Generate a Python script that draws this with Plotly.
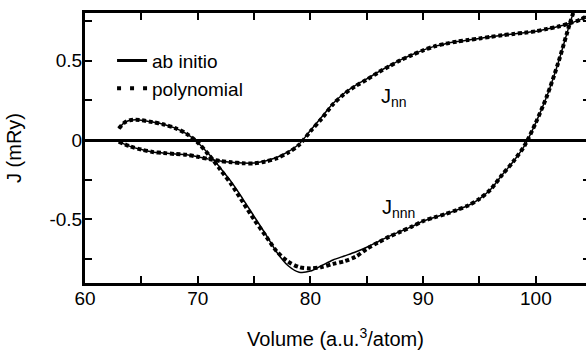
import plotly.graph_objects as go

# ---- data ----
x_nn = [63, 64, 65, 66, 67, 68, 69, 70, 71, 72, 73, 74, 75, 76, 77, 78, 79, 80,
        81, 82, 83, 84, 85, 86, 87, 88, 89, 90, 91, 92, 93, 94, 95, 96, 97, 98,
        99, 100, 101, 102, 103, 104, 104.6]
jnn_abinitio = [-0.01, -0.04, -0.06, -0.075, -0.082, -0.088, -0.093, -0.105, -0.12,
                -0.132, -0.14, -0.145, -0.145, -0.132, -0.11, -0.075, -0.025, 0.06,
                0.145, 0.23, 0.295, 0.345, 0.385, 0.428, 0.468, 0.505, 0.537, 0.566,
                0.59, 0.607, 0.62, 0.63, 0.64, 0.65, 0.66, 0.668, 0.676, 0.685,
                0.70, 0.715, 0.735, 0.76, 0.785]
jnn_poly = [-0.01, -0.04, -0.06, -0.075, -0.082, -0.088, -0.093, -0.105, -0.12,
            -0.132, -0.14, -0.146, -0.147, -0.135, -0.115, -0.08, -0.03, 0.055,
            0.135, 0.225, 0.29, 0.34, 0.38, 0.425, 0.465, 0.503, 0.535, 0.565,
            0.59, 0.607, 0.62, 0.63, 0.64, 0.65, 0.66, 0.668, 0.676, 0.685,
            0.70, 0.715, 0.735, 0.76, 0.785]

x_nnn = [63, 63.5, 64, 64.5, 65, 66, 67, 68, 69, 70, 71, 72, 73, 74, 75, 76, 77,
         78, 79, 80, 81, 82, 83, 84, 85, 86, 87, 88, 89, 90, 91, 92, 93, 94, 95,
         96, 97, 98, 99, 100, 101, 102, 103, 103.5]
jnnn_abinitio = [0.073, 0.11, 0.125, 0.128, 0.125, 0.113, 0.098, 0.075, 0.04, -0.015,
                 -0.09, -0.175, -0.265, -0.37, -0.48, -0.59, -0.705, -0.79, -0.832,
                 -0.825, -0.79, -0.755, -0.73, -0.705, -0.675, -0.64, -0.605, -0.575,
                 -0.545, -0.51, -0.487, -0.465, -0.44, -0.412, -0.37, -0.31, -0.22,
                 -0.135, -0.035, 0.11, 0.28, 0.49, 0.73, 0.84]
jnnn_poly = [0.073, 0.11, 0.125, 0.128, 0.125, 0.113, 0.098, 0.075, 0.04, -0.015,
             -0.095, -0.185, -0.28, -0.39, -0.5, -0.6, -0.7, -0.765, -0.8, -0.808,
             -0.8, -0.78, -0.763, -0.735, -0.685, -0.645, -0.608, -0.577, -0.545,
             -0.51, -0.487, -0.465, -0.44, -0.412, -0.37, -0.31, -0.22, -0.135,
             -0.035, 0.11, 0.28, 0.49, 0.73, 0.84]

x_ticks = [60, 65, 70, 75, 80, 85, 90, 95, 100, 105]
x_ticktext = ["60", "", "70", "", "80", "", "90", "", "100", ""]
y_ticks = [-0.75, -0.5, -0.25, 0, 0.25, 0.5, 0.75]
y_ticktext = ["", "-0.5", "", "0", "", "0.5", ""]

FONT = "Liberation Sans, Arial, Helvetica, sans-serif"
DOT = "4px,2.6px"

fig = go.Figure()

# curves
for xs, ys in [(x_nn, jnn_abinitio), (x_nnn, jnnn_abinitio)]:
    fig.add_trace(go.Scatter(x=xs, y=ys, mode="lines", showlegend=False,
                             line=dict(color="black", width=1.5, shape="spline",
                                       smoothing=0.8)))
for xs, ys in [(x_nn, jnn_poly), (x_nnn, jnnn_poly)]:
    fig.add_trace(go.Scatter(x=xs, y=ys, mode="lines", showlegend=False,
                             line=dict(color="black", width=4, dash=DOT,
                                       shape="spline", smoothing=0.8)))

# legend entries
fig.add_trace(go.Scatter(x=[None], y=[None], mode="lines", name="ab initio",
                         line=dict(color="black", width=3)))
fig.add_trace(go.Scatter(x=[None], y=[None], mode="lines", name="polynomial",
                         line=dict(color="black", width=4, dash="4px,9px")))
# helper for right-side ticks
fig.add_trace(go.Scatter(x=[None], y=[None], yaxis="y2", showlegend=False,
                         hoverinfo="skip"))

fig.update_layout(
    width=586, height=350,
    margin=dict(l=85, r=0, t=13, b=67, autoexpand=False),
    paper_bgcolor="white", plot_bgcolor="white",
    font=dict(family=FONT, size=19, color="black"),
    xaxis=dict(range=[60, 104.45], tickvals=x_ticks, ticktext=x_ticktext,
               ticks="inside", ticklen=7, tickwidth=2, tickcolor="black",
               showline=True, linewidth=3, linecolor="black", mirror="ticks",
               showgrid=False, zeroline=False, automargin=False,
               ticklabelstandoff=-4,
               title=dict(text="Volume (a.u.<sup>3</sup>/atom)",
                          font=dict(size=20), standoff=25)),
    yaxis=dict(range=[-0.9, 0.8], tickvals=y_ticks, ticktext=y_ticktext,
               ticks="inside", ticklen=7, tickwidth=2, tickcolor="black",
               showline=True, linewidth=3, linecolor="black", mirror=False,
               showgrid=False, zeroline=True, zerolinewidth=2.5,
               zerolinecolor="black", automargin=False,
               ticklabelstandoff=-4,
               title=dict(text="J (mRy)", font=dict(size=20), standoff=23)),
    yaxis2=dict(range=[-0.9, 0.8], overlaying="y", side="right",
                tickvals=y_ticks, showticklabels=False, ticks="inside",
                ticklen=3, tickwidth=2, tickcolor="black", showline=False,
                showgrid=False, zeroline=False, automargin=False),
    legend=dict(x=0.054, y=0.894, xanchor="left", yanchor="top",
                bgcolor="rgba(0,0,0,0)", font=dict(size=19),
                tracegroupgap=0),
    annotations=[
        dict(x=87.4, y=0.27, xref="x", yref="y", text="J<sub>nn</sub>",
             showarrow=False, font=dict(size=20)),
        dict(x=87.8, y=-0.43, xref="x", yref="y", text="J<sub>nnn</sub>",
             showarrow=False, font=dict(size=20)),
    ],
)

fig.write_html("out.html",
               config={"displayModeBar": False},
               post_script="document.body.style.margin='0';"
                           "document.body.style.overflow='hidden';")
